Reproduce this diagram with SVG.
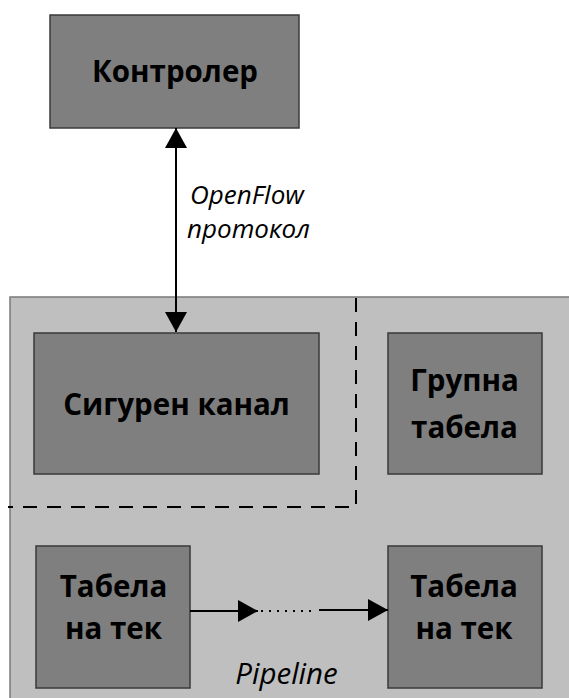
<svg xmlns="http://www.w3.org/2000/svg" width="569" height="698" viewBox="0 0 569 698">
  <defs>
    <marker id="head" viewBox="0 0 20 22" refX="20" refY="11" markerWidth="20" markerHeight="22" markerUnits="userSpaceOnUse" orient="auto-start-reverse">
      <path d="M0,0 L20,11 L0,22 z" fill="#000"/>
    </marker>
    <style>
      .box { fill: #7f7f7f; stroke: #3a3a3a; stroke-width: 1.5; }
      .panel { fill: #bfbfbf; stroke: #7a7a7a; stroke-width: 1.5; }
      .label { font-family: "Open Sans", "Liberation Sans", sans-serif; font-weight: bold; font-size: 29.5px; fill: #000; text-anchor: middle; }
      .note { font-family: "Open Sans", "Liberation Sans", sans-serif; font-style: italic; font-size: 26px; fill: #000; }
      .note.big { font-size: 29.5px; text-anchor: middle; }
      .link { stroke: #000; stroke-width: 2; fill: none; }
      .dash { stroke: #000; stroke-width: 2; stroke-dasharray: 14 10; fill: none; }
    </style>
  </defs>

  <!-- switch body -->
  <rect class="panel" x="10" y="297" width="570" height="410"/>

  <!-- secure-channel partition -->
  <path class="dash" d="M356,298 V507 H8"/>

  <g id="controller">
    <rect class="box" x="50" y="15" width="249" height="113"/>
    <text class="label" x="175" y="82">Контролер</text>
  </g>

  <g id="secure-channel">
    <rect class="box" x="34" y="333" width="285" height="141"/>
    <text class="label" x="176.5" y="415">Сигурен канал</text>
  </g>

  <g id="group-table">
    <rect class="box" x="388" y="333" width="154" height="141"/>
    <text class="label" x="464.5" y="391">Групна</text>
    <text class="label" x="464.5" y="438">табела</text>
  </g>

  <g id="flow-table-1">
    <rect class="box" x="36" y="546" width="154" height="142"/>
    <text class="label" x="113.5" y="597">Табела</text>
    <text class="label" x="113.5" y="639">на тек</text>
  </g>

  <g id="flow-table-n">
    <rect class="box" x="388" y="546" width="154" height="142"/>
    <text class="label" x="464" y="597">Табела</text>
    <text class="label" x="464" y="639">на тек</text>
  </g>

  <g id="connectors">
    <line class="link" x1="176" y1="128" x2="176" y2="332" marker-start="url(#head)" marker-end="url(#head)"/>
    <line class="link" x1="190" y1="611" x2="258" y2="611" marker-end="url(#head)"/>
    <line class="link" x1="261" y1="611" x2="312" y2="611" stroke-dasharray="2 6"/>
    <line class="link" x1="319" y1="610" x2="388" y2="610" marker-end="url(#head)"/>
  </g>

  <g id="labels">
    <text class="note" x="190" y="204">OpenFlow</text>
    <text class="note" x="187" y="238">протокол</text>
    <text class="note big" x="286.5" y="684">Pipeline</text>
  </g>
</svg>
